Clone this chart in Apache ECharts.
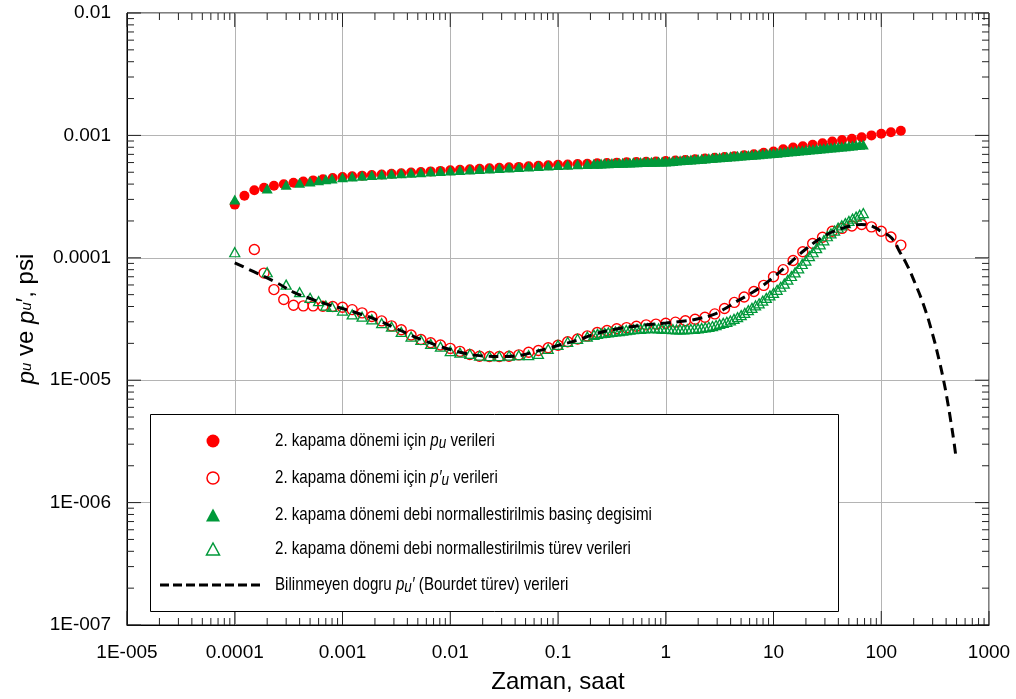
<!DOCTYPE html>
<html>
<head>
<meta charset="utf-8">
<script src="https://cdn.jsdelivr.net/npm/echarts@6/dist/echarts.min.js"></script>
<style>
  html, body { margin: 0; padding: 0; background: #fff; }
  #chart { width: 1016px; height: 699px; }
</style>
</head>
<body>
<div id="chart"></div>
<script>
// Tick labels of the two logarithmic axes (one per decade)
const xTickLabels = ['1E-005', '0.0001', '0.001', '0.01', '0.1', '1', '10', '100', '1000'];
const yTickLabels = ['1E-007', '1E-006', '1E-005', '0.0001', '0.001', '0.01'];

// Series names and their legend texts (rich markup for the italic p and subscript u)
const seriesNames = [
  '2. kapama dönemi için pu verileri',
  '2. kapama dönemi için p\'u verileri',
  '2. kapama dönemi debi normallestirilmis basinç degisimi',
  '2. kapama dönemi debi normallestirilmis türev verileri',
  'Bilinmeyen dogru pu\' (Bourdet türev) verileri'
];
const legendRich = [
  '2. kapama dönemi için {i|p}{s|u} verileri',
  '2. kapama dönemi için {i|p′}{s|u} verileri',
  '2. kapama dönemi debi normallestirilmis basinç degisimi',
  '2. kapama dönemi debi normallestirilmis türev verileri',
  'Bilinmeyen dogru {i|p}{s|u}{i|′} (Bourdet türev) verileri'
];

// Shut-in 2: elapsed time (h) for the pu record
const timeRed = [
  1.00e-4, 1.23e-4, 1.52e-4, 1.87e-4, 2.31e-4, 2.85e-4, 3.51e-4, 4.33e-4, 5.34e-4, 6.58e-4, 8.11e-4,
  1.00e-3, 1.23e-3, 1.52e-3, 1.87e-3, 2.31e-3, 2.85e-3, 3.51e-3, 4.33e-3, 5.34e-3, 6.58e-3, 8.11e-3,
  0.0100, 0.0123, 0.0152, 0.0187, 0.0231, 0.0285, 0.0351, 0.0433, 0.0534, 0.0658, 0.0811,
  0.100, 0.123, 0.152, 0.187, 0.231, 0.285, 0.351, 0.433, 0.534, 0.658, 0.811,
  1.00, 1.23, 1.52, 1.87, 2.31, 2.85, 3.51, 4.33, 5.34, 6.58, 8.11,
  10.0, 12.3, 15.2, 18.7, 23.1, 28.5, 35.1, 43.3, 53.4, 65.8, 81.1,
  100, 123, 152
];
// pu (psi)
const puRed = [
  2.72e-4, 3.21e-4, 3.56e-4, 3.74e-4, 3.88e-4, 3.99e-4, 4.10e-4, 4.20e-4, 4.29e-4, 4.38e-4, 4.48e-4,
  4.57e-4, 4.63e-4, 4.69e-4, 4.75e-4, 4.80e-4, 4.86e-4, 4.91e-4, 4.97e-4, 5.02e-4, 5.08e-4, 5.13e-4,
  5.18e-4, 5.23e-4, 5.28e-4, 5.33e-4, 5.38e-4, 5.43e-4, 5.48e-4, 5.53e-4, 5.59e-4, 5.64e-4, 5.70e-4,
  5.75e-4, 5.79e-4, 5.83e-4, 5.87e-4, 5.91e-4, 5.95e-4, 5.99e-4, 6.03e-4, 6.07e-4, 6.10e-4, 6.13e-4,
  6.17e-4, 6.24e-4, 6.31e-4, 6.39e-4, 6.47e-4, 6.56e-4, 6.66e-4, 6.77e-4, 6.89e-4, 7.02e-4, 7.20e-4,
  7.39e-4, 7.70e-4, 7.95e-4, 8.15e-4, 8.40e-4, 8.62e-4, 8.90e-4, 9.15e-4, 9.40e-4, 9.65e-4, 1.00e-3,
  1.03e-3, 1.06e-3, 1.09e-3
];

// Elapsed time (h) for the p'u record
const timeRedDeriv = [
  1.52e-4, 1.87e-4, 2.31e-4, 2.85e-4, 3.51e-4, 4.33e-4, 5.34e-4, 6.58e-4, 8.11e-4,
  1.00e-3, 1.23e-3, 1.52e-3, 1.87e-3, 2.31e-3, 2.85e-3, 3.51e-3, 4.33e-3, 5.34e-3, 6.58e-3, 8.11e-3,
  0.0100, 0.0123, 0.0152, 0.0187, 0.0231, 0.0285, 0.0351, 0.0433, 0.0534, 0.0658, 0.0811,
  0.100, 0.123, 0.152, 0.187, 0.231, 0.285, 0.351, 0.433, 0.534, 0.658, 0.811,
  1.00, 1.23, 1.52, 1.87, 2.31, 2.85, 3.51, 4.33, 5.34, 6.58, 8.11,
  10.0, 12.3, 15.2, 18.7, 23.1, 28.5, 35.1, 43.3, 53.4, 65.8, 81.1,
  100, 123, 152
];
// p'u (psi)
const puDerivRed = [
  1.17e-4, 7.5e-5, 5.5e-5, 4.56e-5, 4.1e-5, 4.05e-5, 4.05e-5, 4.02e-5, 4.0e-5,
  3.95e-5, 3.77e-5, 3.55e-5, 3.31e-5, 3.05e-5, 2.78e-5, 2.58e-5, 2.34e-5, 2.15e-5, 2.02e-5, 1.94e-5,
  1.82e-5, 1.72e-5, 1.62e-5, 1.57e-5, 1.56e-5, 1.56e-5, 1.57e-5, 1.61e-5, 1.69e-5, 1.75e-5, 1.84e-5,
  1.93e-5, 2.06e-5, 2.17e-5, 2.30e-5, 2.45e-5, 2.55e-5, 2.63e-5, 2.69e-5, 2.76e-5, 2.83e-5, 2.87e-5,
  2.92e-5, 2.98e-5, 3.06e-5, 3.15e-5, 3.27e-5, 3.48e-5, 3.85e-5, 4.32e-5, 4.78e-5, 5.30e-5, 5.95e-5,
  7.0e-5, 8.0e-5, 9.5e-5, 1.12e-4, 1.31e-4, 1.47e-4, 1.65e-4, 1.74e-4, 1.82e-4, 1.87e-4, 1.79e-4,
  1.65e-4, 1.48e-4, 1.27e-4
];

// Elapsed time (h) for the rate-normalized record (dense logging from 0.2 h on)
const timeGreen = [
  1e-4, 2e-4, 3e-4, 4e-4, 5e-4, 6e-4, 7e-4, 8e-4, 1e-3,
  1.23e-3, 1.52e-3, 1.87e-3, 2.31e-3, 2.85e-3, 3.51e-3, 4.33e-3, 5.34e-3, 6.58e-3, 8.11e-3,
  0.0100, 0.0123, 0.0152, 0.0187, 0.0231, 0.0285, 0.0351, 0.0433, 0.0534, 0.0658, 0.0811,
  0.100, 0.123, 0.152, 0.187,
  0.2154, 0.2326, 0.2512, 0.2712, 0.2929, 0.3162, 0.3415, 0.3687, 0.3981, 0.4299,
  0.4642, 0.5012, 0.5412, 0.5843, 0.6310, 0.6813, 0.7356, 0.7943, 0.8577, 0.9261,
  1.000, 1.080, 1.166, 1.259, 1.359, 1.468, 1.585, 1.711, 1.848, 1.995,
  2.154, 2.326, 2.512, 2.712, 2.929, 3.162, 3.415, 3.687, 3.981, 4.299,
  4.642, 5.012, 5.412, 5.843, 6.310, 6.813, 7.356, 7.943, 8.577, 9.261,
  10.00, 10.80, 11.66, 12.59, 13.59, 14.68, 15.85, 17.11, 18.48, 19.95,
  21.54, 23.26, 25.12, 27.12, 29.29, 31.62, 34.15, 36.87, 39.81, 42.99,
  46.42, 50.12, 54.12, 58.43, 63.10, 68.13
];
// Rate-normalized pressure change (psi)
const dpNorm = [
  2.99e-4, 3.69e-4, 3.95e-4, 4.10e-4, 4.20e-4, 4.30e-4, 4.38e-4, 4.44e-4, 4.55e-4,
  4.62e-4, 4.68e-4, 4.74e-4, 4.80e-4, 4.85e-4, 4.90e-4, 4.96e-4, 5.01e-4, 5.07e-4, 5.12e-4,
  5.17e-4, 5.22e-4, 5.27e-4, 5.32e-4, 5.37e-4, 5.42e-4, 5.47e-4, 5.52e-4, 5.57e-4, 5.62e-4, 5.68e-4,
  5.73e-4, 5.77e-4, 5.81e-4, 5.85e-4,
  5.87e-4, 5.88e-4, 5.90e-4, 5.91e-4, 5.93e-4, 5.94e-4, 5.96e-4, 5.97e-4, 5.99e-4, 6.00e-4,
  6.02e-4, 6.03e-4, 6.04e-4, 6.05e-4, 6.07e-4, 6.08e-4, 6.09e-4, 6.10e-4, 6.11e-4, 6.12e-4,
  6.13e-4, 6.16e-4, 6.19e-4, 6.23e-4, 6.26e-4, 6.29e-4, 6.32e-4, 6.36e-4, 6.39e-4, 6.42e-4,
  6.46e-4, 6.49e-4, 6.53e-4, 6.56e-4, 6.60e-4, 6.63e-4, 6.67e-4, 6.70e-4, 6.74e-4, 6.77e-4,
  6.81e-4, 6.85e-4, 6.88e-4, 6.92e-4, 6.96e-4, 6.99e-4, 7.03e-4, 7.07e-4, 7.11e-4, 7.14e-4,
  7.18e-4, 7.23e-4, 7.27e-4, 7.32e-4, 7.37e-4, 7.41e-4, 7.46e-4, 7.51e-4, 7.56e-4, 7.61e-4,
  7.66e-4, 7.71e-4, 7.76e-4, 7.81e-4, 7.86e-4, 7.91e-4, 7.96e-4, 8.01e-4, 8.06e-4, 8.12e-4,
  8.17e-4, 8.22e-4, 8.28e-4, 8.33e-4, 8.38e-4, 8.44e-4
];
// Rate-normalized derivative (psi)
const dpNormDeriv = [
  1.11e-4, 7.62e-5, 6.04e-5, 5.24e-5, 4.71e-5, 4.42e-5, 4.07e-5, 3.97e-5, 3.71e-5,
  3.45e-5, 3.30e-5, 3.14e-5, 2.92e-5, 2.74e-5, 2.48e-5, 2.27e-5, 2.13e-5, 1.98e-5, 1.88e-5,
  1.73e-5, 1.68e-5, 1.64e-5, 1.59e-5, 1.57e-5, 1.57e-5, 1.59e-5, 1.60e-5, 1.60e-5, 1.64e-5, 1.80e-5,
  1.94e-5, 2.06e-5, 2.18e-5, 2.27e-5,
  2.35e-5, 2.39e-5, 2.42e-5, 2.44e-5, 2.46e-5, 2.48e-5, 2.50e-5, 2.52e-5, 2.54e-5, 2.57e-5,
  2.59e-5, 2.61e-5, 2.62e-5, 2.63e-5, 2.65e-5, 2.66e-5, 2.67e-5, 2.66e-5, 2.65e-5, 2.64e-5,
  2.63e-5, 2.62e-5, 2.61e-5, 2.60e-5, 2.60e-5, 2.60e-5, 2.61e-5, 2.62e-5, 2.63e-5, 2.65e-5,
  2.67e-5, 2.70e-5, 2.73e-5, 2.77e-5, 2.82e-5, 2.88e-5, 2.94e-5, 3.00e-5, 3.08e-5, 3.17e-5,
  3.27e-5, 3.40e-5, 3.55e-5, 3.73e-5, 3.90e-5, 4.08e-5, 4.25e-5, 4.47e-5, 4.70e-5, 4.93e-5,
  5.17e-5, 5.48e-5, 5.80e-5, 6.15e-5, 6.62e-5, 7.10e-5, 7.60e-5, 8.20e-5, 8.90e-5, 9.50e-5,
  1.03e-4, 1.11e-4, 1.20e-4, 1.29e-4, 1.39e-4, 1.50e-4, 1.58e-4, 1.67e-4, 1.76e-4, 1.84e-4,
  1.92e-4, 2.00e-4, 2.09e-4, 2.17e-4, 2.25e-4, 2.32e-4
];

// Unknown true pu' (Bourdet derivative) curve
const timeTrue = [
  1e-4, 1.5e-4, 2.5e-4, 3.5e-4, 5e-4, 7e-4, 1e-3, 1.5e-3, 2e-3, 3e-3, 4e-3, 5.5e-3, 7.5e-3,
  1e-2, 1.4e-2, 2e-2, 3e-2, 4.5e-2, 6e-2, 8e-2, 0.1, 0.15, 0.22, 0.33, 0.5, 0.75,
  1, 1.5, 2, 2.8, 3.5, 4.5, 6, 8, 10.5, 13, 16, 20, 25, 30, 37, 45, 55, 65, 75, 87,
  100, 125, 150, 175, 200, 250, 298, 340, 377, 410, 444, 470, 491
];
const puTrue = [
  9.1e-5, 7.7e-5, 6.2e-5, 5.25e-5, 4.65e-5, 4.2e-5, 3.85e-5, 3.45e-5, 3.15e-5, 2.7e-5, 2.4e-5, 2.13e-5, 1.93e-5,
  1.78e-5, 1.65e-5, 1.58e-5, 1.56e-5, 1.6e-5, 1.7e-5, 1.82e-5, 1.92e-5, 2.12e-5, 2.38e-5, 2.6e-5, 2.75e-5, 2.86e-5,
  2.93e-5, 3.05e-5, 3.18e-5, 3.45e-5, 3.82e-5, 4.38e-5, 5.05e-5, 5.95e-5, 7.2e-5, 8.45e-5, 1.0e-4, 1.18e-4, 1.37e-4,
  1.52e-4, 1.66e-4, 1.76e-4, 1.84e-4, 1.87e-4, 1.85e-4, 1.77e-4,
  1.64e-4, 1.45e-4, 1.1e-4, 8.6e-5, 6.6e-5, 4.0e-5, 2.41e-5, 1.53e-5, 1.02e-5, 6.9e-6, 4.52e-6, 3.26e-6, 2.44e-6
];

const RED = '#ff0000';
const GREEN = '#00993a';
const FONT = '"Liberation Sans", Arial, sans-serif';

function zip(xs, ys) { return xs.map((x, i) => [x, ys[i]]); }
function decadeLabel(labels, minExp) {
  return function (v) {
    const k = Math.round(Math.log10(v)) - minExp;
    return labels[k] !== undefined ? labels[k] : '';
  };
}

// Inside tick marks on all four sides: decades (long) and 2..9 (short)
const X_MIN_EXP = -5, X_MAX_EXP = 3, Y_MIN_EXP = -7, Y_MAX_EXP = -2;
function tickPositions(lo, hi) {
  const out = [];
  for (let e = lo; e <= hi; e++) {
    out.push([Math.pow(10, e), 14]);
    if (e < hi) for (let m = 2; m <= 9; m++) out.push([m * Math.pow(10, e), 7]);
  }
  return out;
}
const xTicks = tickPositions(X_MIN_EXP, X_MAX_EXP).map(p => [p[0], 1e-4, p[1]]);
const yTicks = tickPositions(Y_MIN_EXP, Y_MAX_EXP).map(p => [1, p[0], p[1]]);
const tickStyle = { stroke: '#222', lineWidth: 1 };

// Legend block: framed box with one symbol and one condensed text line per row
const LEGEND_BOX = { x: 150.5, y: 414.5, width: 688, height: 197 };
const LEGEND_ROW_Y = [441, 478, 515, 549, 585];
const LEGEND_ICON_X = 213, LEGEND_TEXT_X = 275;
const legendTextStyle = {
  fill: '#000', fontFamily: FONT, fontSize: 19, verticalAlign: 'middle', align: 'left', lineHeight: 22,
  rich: {
    i: { fill: '#000', fontFamily: FONT, fontSize: 19, fontStyle: 'italic', lineHeight: 22 },
    s: { fill: '#000', fontFamily: FONT, fontSize: 17, fontStyle: 'italic', lineHeight: 10, verticalAlign: 'bottom' }
  }
};
function legendIcon(row) {
  const cx = LEGEND_ICON_X, cy = LEGEND_ROW_Y[row];
  switch (row) {
    case 0: return { type: 'circle', shape: { cx: cx, cy: cy, r: 6.5 }, style: { fill: RED } };
    case 1: return { type: 'circle', shape: { cx: cx, cy: cy, r: 6 }, style: { fill: 'none', stroke: RED, lineWidth: 1.5 } };
    case 2: return { type: 'polygon', shape: { points: [[cx - 7, cy + 6.5], [cx + 7, cy + 6.5], [cx, cy - 6.5]] }, style: { fill: GREEN } };
    case 3: return { type: 'polygon', shape: { points: [[cx - 6.5, cy + 6], [cx + 6.5, cy + 6], [cx, cy - 6]] }, style: { fill: 'none', stroke: GREEN, lineWidth: 1.5 } };
    default: return { type: 'line', shape: { x1: 160, y1: cy, x2: 260, y2: cy }, style: { stroke: '#000', lineWidth: 3, lineDash: [9, 4] } };
  }
}
const legendGraphics = [{
  type: 'rect', z: 5, silent: true, shape: LEGEND_BOX,
  style: { fill: '#fff', stroke: '#000', lineWidth: 1 }
}];
legendRich.forEach(function (txt, row) {
  legendGraphics.push(Object.assign({ z: 6, silent: true }, legendIcon(row)));
  legendGraphics.push({
    type: 'text', z: 6, silent: true,
    x: LEGEND_TEXT_X, y: LEGEND_ROW_Y[row], scaleX: 0.795, scaleY: 1,
    style: Object.assign({ text: txt }, legendTextStyle)
  });
});

const chart = echarts.init(document.getElementById('chart'), null, { renderer: 'canvas' });

chart.setOption({
  animation: false,
  backgroundColor: '#fff',
  grid: {
    left: 127, right: 27, top: 13, bottom: 73,
    show: true, borderColor: '#000', borderWidth: 1, backgroundColor: 'transparent'
  },
  xAxis: {
    type: 'log', logBase: 10, min: 1e-5, max: 1000, splitNumber: 8,
    axisLine: { show: true, lineStyle: { color: '#000', width: 1 } },
    axisTick: { show: false },
    splitLine: { show: true, lineStyle: { color: '#b4b4b4', width: 1 } },
    axisLabel: {
      formatter: decadeLabel(xTickLabels, X_MIN_EXP),
      fontFamily: FONT, fontSize: 19, color: '#000', margin: 18
    },
    name: 'Zaman, saat', nameLocation: 'middle', nameGap: 45,
    nameTextStyle: { fontFamily: FONT, fontSize: 24, color: '#000' }
  },
  yAxis: {
    type: 'log', logBase: 10, min: 1e-7, max: 0.01, splitNumber: 5,
    axisLine: { show: true, lineStyle: { color: '#000', width: 1 } },
    axisTick: { show: false },
    splitLine: { show: true, lineStyle: { color: '#b4b4b4', width: 1 } },
    axisLabel: {
      formatter: decadeLabel(yTickLabels, Y_MIN_EXP),
      fontFamily: FONT, fontSize: 19, color: '#000', margin: 16
    },
    name: '{i|p}{s|u} ve {i|p}{s|u}{n|′}, psi',
    nameLocation: 'middle', nameGap: 76, nameRotate: 90,
    nameTextStyle: {
      fontFamily: FONT, fontSize: 24, color: '#000',
      rich: {
        i: { fontFamily: FONT, fontSize: 24, fontStyle: 'italic', color: '#000' },
        s: { fontFamily: FONT, fontSize: 15, fontStyle: 'italic', color: '#000' },
        n: { fontFamily: FONT, fontSize: 24, color: '#000' }
      }
    }
  },
  graphic: legendGraphics,
  series: [
    {
      name: seriesNames[0], type: 'scatter', data: zip(timeRed, puRed),
      symbol: 'circle', symbolSize: 10, itemStyle: { color: RED, opacity: 1 }
    },
    {
      name: seriesNames[2], type: 'scatter', data: zip(timeGreen, dpNorm),
      symbol: 'triangle', symbolSize: [11, 10], itemStyle: { color: GREEN, opacity: 1 }
    },
    {
      name: seriesNames[1], type: 'scatter', data: zip(timeRedDeriv, puDerivRed),
      symbol: 'circle', symbolSize: 10,
      itemStyle: { color: 'rgba(255,255,255,0)', borderColor: RED, borderWidth: 1.4, opacity: 1 }
    },
    {
      name: seriesNames[3], type: 'scatter', data: zip(timeGreen, dpNormDeriv),
      symbol: 'triangle', symbolSize: [10, 9],
      itemStyle: { color: 'rgba(255,255,255,0)', borderColor: GREEN, borderWidth: 1.3, opacity: 1 }
    },
    {
      name: seriesNames[4], type: 'line', data: zip(timeTrue, puTrue),
      symbol: 'none', showSymbol: false, smooth: 0.5,
      lineStyle: { color: '#000', width: 3, type: [10, 6] },
      itemStyle: { color: '#000' }
    },
    {
      type: 'custom', silent: true, clip: false, z: 3,
      data: xTicks,
      renderItem: function (params, api) {
        const cs = params.coordSys;
        const x = api.coord([api.value(0), api.value(1)])[0];
        const len = api.value(2);
        return {
          type: 'group', children: [
            { type: 'line', shape: { x1: x, y1: cs.y + cs.height, x2: x, y2: cs.y + cs.height - len }, style: tickStyle },
            { type: 'line', shape: { x1: x, y1: cs.y, x2: x, y2: cs.y + len }, style: tickStyle }
          ]
        };
      }
    },
    {
      type: 'custom', silent: true, clip: false, z: 3,
      data: yTicks,
      renderItem: function (params, api) {
        const cs = params.coordSys;
        const y = api.coord([api.value(0), api.value(1)])[1];
        const len = api.value(2);
        return {
          type: 'group', children: [
            { type: 'line', shape: { x1: cs.x, y1: y, x2: cs.x + len, y2: y }, style: tickStyle },
            { type: 'line', shape: { x1: cs.x + cs.width, y1: y, x2: cs.x + cs.width - len, y2: y }, style: tickStyle }
          ]
        };
      }
    }
  ]
});
</script>
</body>
</html>
